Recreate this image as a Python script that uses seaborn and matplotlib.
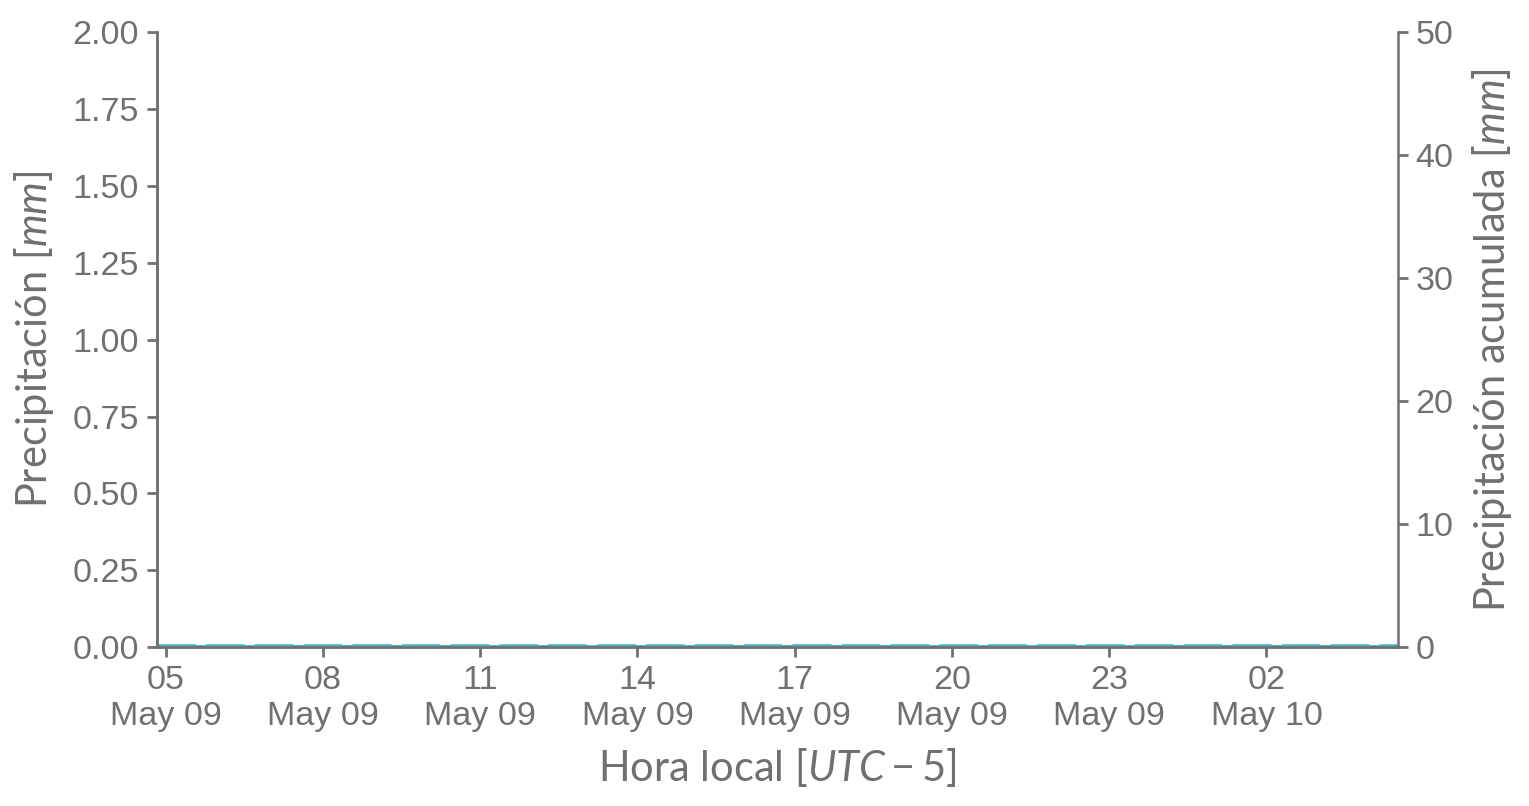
import numpy as np
import pandas as pd
import matplotlib
matplotlib.use("Agg")
import matplotlib.pyplot as plt
import matplotlib.dates as mdates
import seaborn as sns

# 10-minute records, local time (UTC-5)
times = pd.date_range("2023-05-09 04:50", "2023-05-10 04:30", freq="10min")
precip = [0.0] * len(times)        # no rain recorded in the period
precip_acum = [0.0] * len(times)

df = pd.DataFrame({"fecha": times, "precip": precip, "acum": precip_acum})

sns.set_theme(style="ticks")
gray = "#707070"
teal = "#4bb0bd"
plt.rcParams["font.family"] = ["Liberation Sans", "DejaVu Sans"]
plt.rcParams["mathtext.fontset"] = "custom"
plt.rcParams["mathtext.rm"] = "Lato"
plt.rcParams["mathtext.it"] = "Lato:italic"
plt.rcParams["axes.edgecolor"] = gray
plt.rcParams["xtick.color"] = gray
plt.rcParams["ytick.color"] = gray

fig, ax = plt.subplots(figsize=(7.645, 4.03), dpi=200)
fig.subplots_adjust(left=0.1027, right=0.914, bottom=0.197, top=0.960)

ax2 = ax.twinx()
sns.lineplot(data=df, x="fecha", y="precip", ax=ax, color=teal, lw=1.4)
sns.lineplot(data=df, x="fecha", y="acum", ax=ax2, color=teal, lw=2.0,
             dashes=False, linestyle=(0, (7, 1.8)))

ax.set_ylim(0, 2)
ax.set_yticks(np.arange(0, 2.01, 0.25))
ax.yaxis.set_major_formatter(plt.FormatStrFormatter("%.2f"))
ax2.set_ylim(0, 50)
ax2.set_yticks([0, 10, 20, 30, 40, 50])
ax.set_xlim(times[0], times[-1])

ax.xaxis.set_major_locator(mdates.HourLocator(byhour=range(2, 24, 3)))
ax.xaxis.set_major_formatter(mdates.DateFormatter("%H\n%b %d"))

lab_font = dict(family="Lato", size=15, color=gray)
ax.set_xlabel("Hora local [$UTC-5$]", **lab_font, labelpad=5)
ax.set_ylabel("Precipitación [$mm$]", **lab_font, labelpad=6)
ax2.set_ylabel("Precipitación acumulada [$mm$]", **lab_font, labelpad=6)

for a in (ax, ax2):
    a.tick_params(labelsize=12.3, length=3.5, width=1, colors=gray, pad=3)
    a.spines["top"].set_visible(False)
    for s in a.spines.values():
        s.set_color(gray)
        s.set_linewidth(0.9)
ax.spines["right"].set_visible(False)

plt.savefig("out.png", dpi=200)
